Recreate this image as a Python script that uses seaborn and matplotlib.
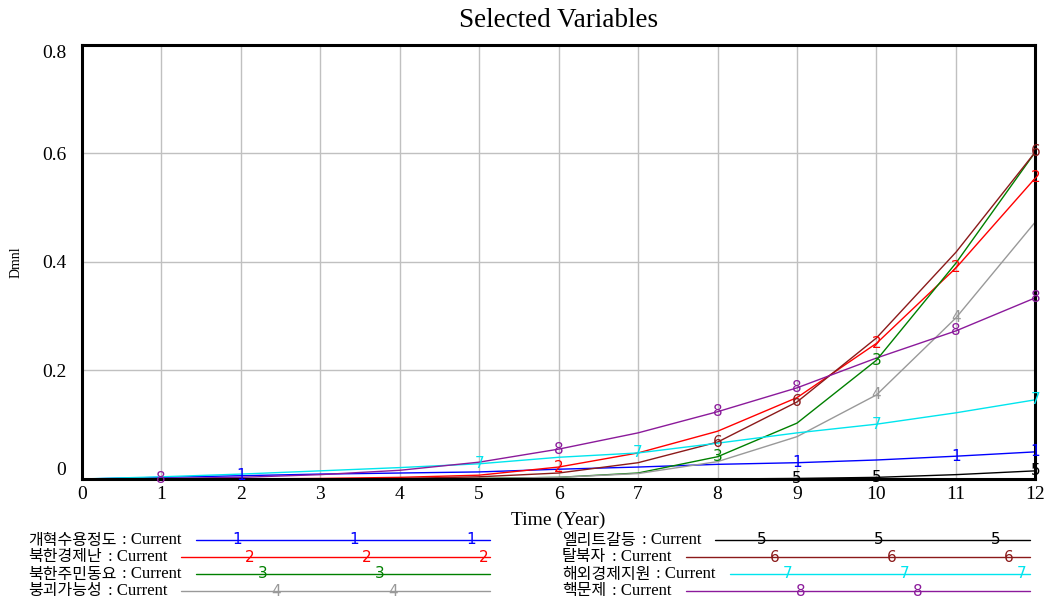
import pandas as pd
import matplotlib.pyplot as plt
import seaborn as sns
from matplotlib.lines import Line2D

sns.set_style("white")
plt.rcParams['font.family'] = ['Liberation Serif', 'Noto Sans CJK KR', 'DejaVu Sans']
plt.rcParams['text.color'] = 'black'
plt.rcParams['axes.labelcolor'] = 'black'
plt.rcParams['xtick.color'] = 'black'
plt.rcParams['ytick.color'] = 'black'

# ===== DATA =====
years = list(range(0, 13))
names = ["개혁수용정도", "북한경제난", "북한주민동요", "붕괴가능성",
         "엘리트갈등", "탈북자", "해외경제지원", "핵문제"]
tags = ["1", "2", "3", "4", "5", "6", "7", "8"]

reform = [0, 0.003, 0.006, 0.009, 0.011, 0.013, 0.018, 0.022, 0.027, 0.030, 0.035, 0.042, 0.050]
econ = [0, 0, 0, 0.001, 0.003, 0.007, 0.022, 0.048, 0.088, 0.150, 0.250, 0.389, 0.555]
unrest = [0, 0, 0, 0, 0, 0.001, 0.003, 0.011, 0.041, 0.103, 0.219, 0.398, 0.603]
collapse = [0, 0, 0, 0, 0, 0.001, 0.003, 0.010, 0.032, 0.078, 0.155, 0.297, 0.474]
elite = [0, 0, 0, 0, 0, 0, 0, 0, 0, 0.001, 0.003, 0.008, 0.015]
defect = [0, 0, 0, 0, 0.001, 0.004, 0.011, 0.030, 0.068, 0.142, 0.260, 0.418, 0.603]
aid = [0, 0.004, 0.009, 0.015, 0.021, 0.028, 0.040, 0.048, 0.066, 0.085, 0.101, 0.122, 0.146]
nuke = [0, 0.001, 0.003, 0.008, 0.016, 0.031, 0.055, 0.085, 0.124, 0.168, 0.223, 0.273, 0.334]

series = [reform, econ, unrest, collapse, elite, defect, aid, nuke]
colors = ["#0000ff", "#ff0000", "#008000", "#999999",
          "#000000", "#8b1a1a", "#00e5ee", "#8b1a9b"]

# years where the number tags sit on each curve
tag_years = [
    [2, 9, 11, 12],
    [6, 10, 11, 12],
    [8, 10],
    [10, 11],
    [9, 10, 12],
    [8, 9, 12],
    [5, 7, 10, 12],
    [1, 6, 8, 9, 11, 12],
]

rows = []
for name, vals in zip(names, series):
    for t, v in zip(years, vals):
        rows.append({"Time": t, "Value": v, "Variable": name})
df = pd.DataFrame(rows)

# ===== PLOT =====
fig = plt.figure(figsize=(10.48, 6), dpi=100)
ax = fig.add_axes([0.078, 0.2017, 0.910, 0.7233])

sns.lineplot(data=df, x="Time", y="Value", hue="Variable", hue_order=names,
             palette=colors, linewidth=1.0, legend=False, ax=ax)

for vals, tag, col, ty in zip(series, tags, colors, tag_years):
    for t in ty:
        ax.text(t, vals[t], tag, color=col, fontsize=11, ha="center", va="center",
                family=["DejaVu Sans"])

ax.set_xlim(0, 12)
ax.set_ylim(0, 0.8)
ax.set_xticks(range(0, 13))
ax.set_yticks([0, 0.2, 0.4, 0.6, 0.8])
ax.set_yticklabels(["0", "0.2", "0.4", "0.6", "0.8"])
ylabs = ax.get_yticklabels()
ylabs[0].set_va("bottom")
ylabs[-1].set_va("top")
ax.grid(True, color="#c0c0c0", linewidth=1.0)
ax.set_axisbelow(True)
for s in ax.spines.values():
    s.set_color("black")
    s.set_linewidth(2.2)
ax.tick_params(axis="both", labelsize=14, length=0)
ax.tick_params(axis="y", pad=11)
ax.tick_params(axis="x", pad=5)
ax.set_xlabel("Time (Year)", fontsize=14, labelpad=6)
ax.set_ylabel("Dmnl", fontsize=10, labelpad=14)
ax.set_title("Selected Variables", fontsize=19.5, pad=13)

# ===== LEGEND (Vensim style) =====
W, H = 1048, 600
fig.canvas.draw()
renderer = fig.canvas.get_renderer()
row_y = [540, 557, 574, 591]
col_x = [28, 562]
col_end = [490, 1030]
col_mark0 = [237, 762]
for i, (name, tag, col) in enumerate(zip(names, tags, colors)):
    c, r = divmod(i, 4)
    y = 1 - row_y[r] / H
    kr = fig.text(col_x[c] / W, y, name, fontsize=11.5, ha="left",
                  va="center", color="black", family=["Noto Sans CJK KR"])
    bb = kr.get_window_extent(renderer)
    cur = fig.text((bb.x1 + 6) / W, y, ": Current", fontsize=12, ha="left",
                   va="center", color="black")
    bb = cur.get_window_extent(renderer)
    x0 = bb.x1 + 14
    fig.add_artist(Line2D([x0 / W, col_end[c] / W], [y, y], color=col, linewidth=1.0,
                          transform=fig.transFigure))
    mx = col_mark0[c] + 13 * r
    while mx < col_end[c]:
        fig.text(mx / W, y, tag, color=col, fontsize=11, ha="center", va="center",
                 family=["DejaVu Sans"])
        mx += 117

plt.savefig("out.png", dpi=100)
plt.close()
